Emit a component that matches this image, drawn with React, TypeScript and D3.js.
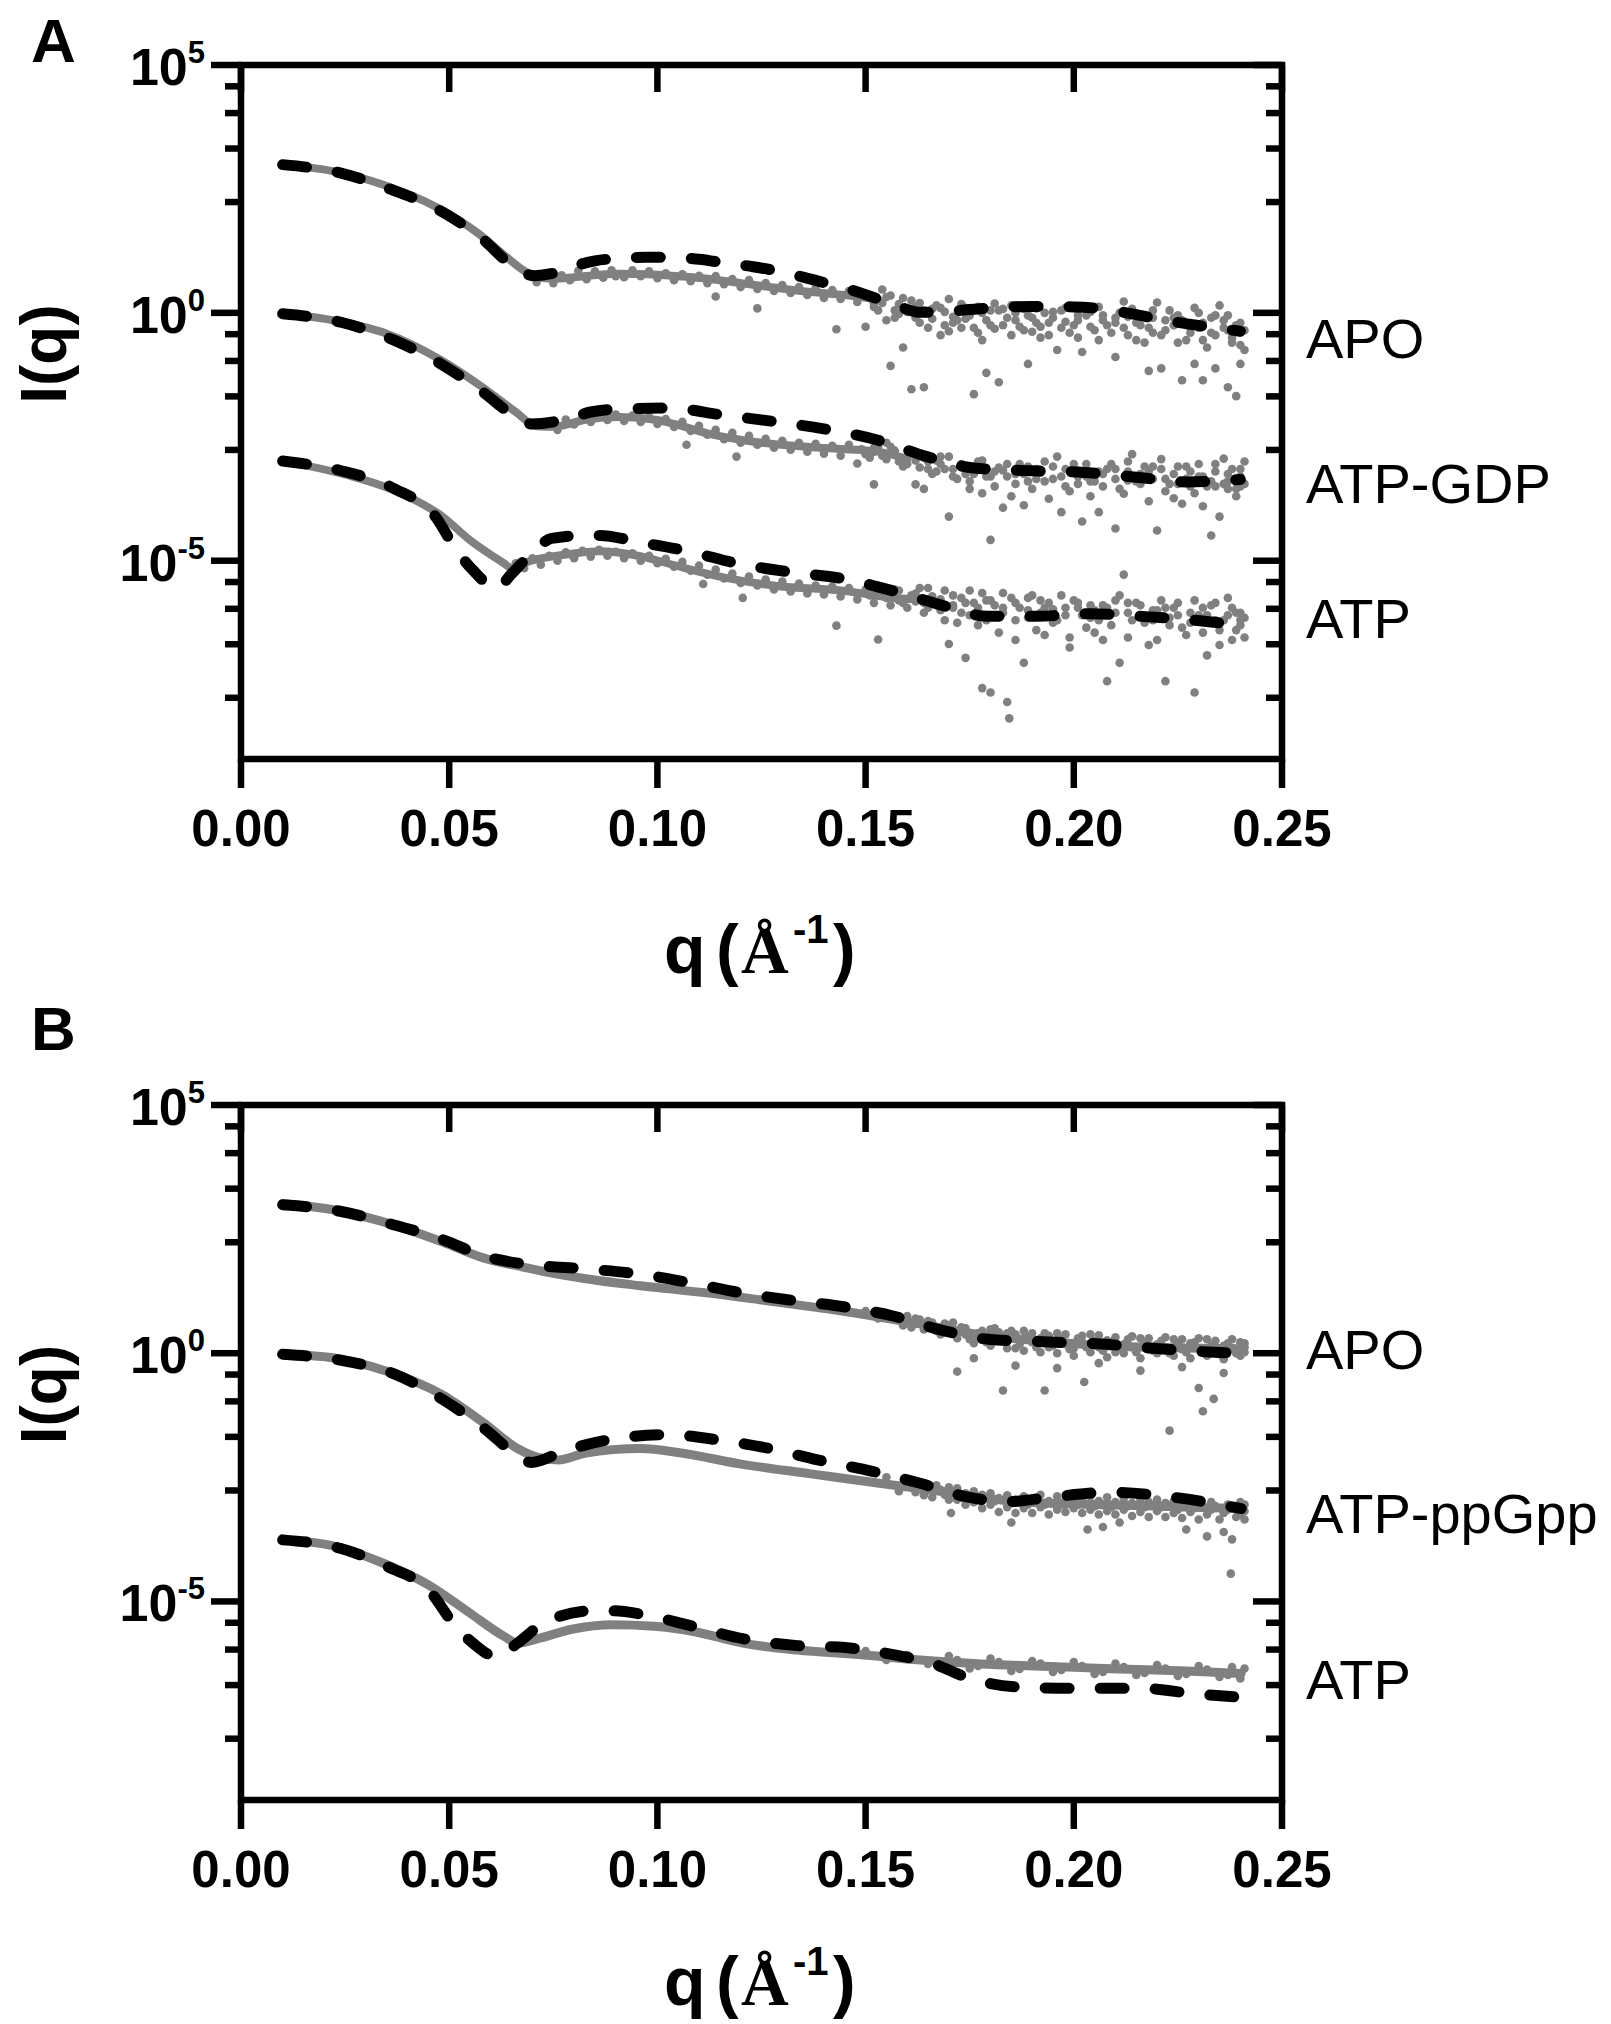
import React from "react";
import * as d3 from "d3";

// ---------------- axes / ticks ----------------
const qDomain: [number, number] = [0, 0.25];
const iDomain: [number, number] = [1e-9, 1e5];
const xTickValues = [0, 0.05, 0.1, 0.15, 0.2, 0.25];
const xTickLabels = ["0.00", "0.05", "0.10", "0.15", "0.20", "0.25"];
const yMajorValues = [1e5, 1e0, 1e-5];
const yMajorBase = ["10", "10", "10"];
const yMajorSup = ["5", "0", "-5"];
// minor ticks inside each 5-decade band (fraction of band above the lower major tick)
const yMinorBandFractions = [0.447, 0.663, 0.806, 0.914];
const yMinorBandLowerExps = [0, -5, -10];

// ---------------- Panel A data  [q, log10 I] ----------------
const A_apoData: [number, number][] = [
  [0.010, 2.99], [0.022, 2.86], [0.034, 2.59], [0.047, 2.13], [0.057, 1.60], [0.063, 1.18],
  [0.068, 0.85], [0.071, 0.72], [0.075, 0.69], [0.080, 0.72], [0.086, 0.77], [0.091, 0.79],
  [0.098, 0.78], [0.105, 0.74], [0.112, 0.69], [0.120, 0.60], [0.129, 0.50], [0.137, 0.42],
  [0.145, 0.36], [0.153, 0.27],
];
const A_apoFit: [number, number][] = [
  [0.010, 2.99], [0.024, 2.82], [0.035, 2.52], [0.047, 2.10], [0.058, 1.49], [0.0655, 0.93],
  [0.0705, 0.75], [0.075, 0.80], [0.0795, 0.93], [0.085, 1.05], [0.091, 1.10], [0.097, 1.12],
  [0.104, 1.12], [0.110, 1.08], [0.116, 1.01], [0.123, 0.93], [0.129, 0.84], [0.135, 0.72],
  [0.140, 0.61], [0.147, 0.45], [0.153, 0.28], [0.158, 0.13], [0.163, 0.01], [0.170, 0.03],
  [0.180, 0.10], [0.190, 0.13], [0.200, 0.12], [0.207, 0.08], [0.214, -0.02], [0.222, -0.15],
  [0.232, -0.28], [0.240, -0.37],
];
const A_apoDots: [number, number][] = [
  [0.071, 0.62], [0.073, 0.80], [0.075, 0.60], [0.077, 0.76], [0.079, 0.66], [0.081, 0.85],
  [0.083, 0.68], [0.085, 0.84], [0.087, 0.71], [0.089, 0.86], [0.090, 0.74],
  [0.092, 0.72], [0.094, 0.86], [0.096, 0.74], [0.098, 0.84], [0.100, 0.70], [0.102, 0.80],
  [0.104, 0.66], [0.106, 0.78], [0.108, 0.64], [0.110, 0.75], [0.112, 0.60], [0.114, 0.74],
  [0.114, 0.33], [0.116, 0.58], [0.118, 0.68], [0.120, 0.52], [0.122, 0.66], [0.124, 0.48],
  [0.124, 0.09], [0.126, 0.60], [0.128, 0.44], [0.130, 0.56], [0.132, 0.40], [0.134, 0.52],
  [0.136, 0.36], [0.138, 0.50], [0.140, 0.30], [0.142, 0.46], [0.143, -0.33], [0.144, 0.28],
  [0.146, 0.44], [0.148, 0.22], [0.150, 0.38], [0.150, -0.28], [0.152, 0.12], [0.154, 0.47],
  [0.155, -0.15], [0.156, -1.07], [0.157, 0.05], [0.159, -0.70], [0.159, 0.30], [0.161, -1.54],
  [0.162, -0.10], [0.163, 0.20], [0.164, -1.50], [0.165, -0.30], [0.166, 0.08], [0.168, -0.45],
  [0.170, -0.37], [0.170, 0.28], [0.172, -0.15], [0.174, 0.10], [0.176, -1.64], [0.176, -0.30],
  [0.178, -0.55], [0.179, -1.21], [0.180, 0.05], [0.181, 0.19], [0.182, -1.40], [0.183, -0.25],
  [0.185, -0.45], [0.186, 0.00], [0.188, -0.35], [0.189, -1.03], [0.190, -0.10], [0.191, 0.09],
  [0.192, -0.50], [0.194, -0.20], [0.196, -0.75], [0.197, 0.05], [0.199, -0.40], [0.201, -0.15],
  [0.202, -0.79], [0.204, 0.02], [0.206, -0.55], [0.208, -0.25], [0.210, -0.89], [0.211, 0.00],
  [0.212, 0.23], [0.213, -0.45], [0.215, -0.20], [0.217, -0.60], [0.218, -1.17], [0.219, 0.05],
  [0.220, 0.21], [0.221, -1.12], [0.222, -0.35], [0.224, -0.10], [0.226, -1.36], [0.227, -0.55],
  [0.228, -0.25], [0.229, -1.03], [0.230, 0.00], [0.231, -1.36], [0.232, -0.70], [0.233, -0.40],
  [0.234, -1.12], [0.235, 0.15], [0.236, -0.15], [0.237, -1.50], [0.238, -0.60], [0.239, -1.68],
  [0.240, -1.03], [0.240, -0.40], [0.241, -0.75],
];
const A_apoDots2: [number, number][] = [
  [0.151, 0.30], [0.153, 0.05], [0.154, 0.20], [0.156, 0.35], [0.157, -0.10], [0.158, 0.18],
  [0.160, 0.02], [0.161, 0.25], [0.163, -0.20], [0.164, 0.05], [0.166, -0.12], [0.167, 0.15],
  [0.169, -0.25], [0.169, 0.02], [0.171, -0.08], [0.173, -0.30], [0.173, 0.18], [0.175, -0.05],
  [0.177, 0.12], [0.177, -0.40], [0.179, -0.15], [0.181, -0.32], [0.182, 0.05], [0.184, -0.10],
  [0.185, 0.15], [0.187, -0.28], [0.188, 0.08], [0.190, -0.38], [0.191, -0.20], [0.193, 0.00],
  [0.194, -0.45], [0.195, -0.10], [0.197, -0.30], [0.198, 0.10], [0.200, -0.25], [0.201, -0.50],
  [0.203, -0.05], [0.205, -0.35], [0.206, 0.12], [0.207, -0.15], [0.209, -0.40], [0.210, -0.10],
  [0.212, -0.30], [0.214, 0.08], [0.215, -0.55], [0.216, -0.05], [0.218, -0.30], [0.219, -0.10],
  [0.221, -0.45], [0.223, 0.05], [0.224, -0.25], [0.225, -0.60], [0.226, -0.15], [0.228, -0.40],
  [0.229, 0.10], [0.230, -0.30], [0.231, -0.55], [0.233, -0.10], [0.234, -0.45], [0.236, -0.30],
  [0.237, -0.05], [0.238, -0.50], [0.239, -0.25], [0.240, -0.65], [0.241, -0.35],
];
const A_apoDots3: [number, number][] = [
  [0.152, 0.20], [0.155, 0.32], [0.158, -0.02], [0.162, 0.12], [0.165, 0.00], [0.168, 0.10],
  [0.171, -0.20], [0.174, -0.12], [0.178, 0.00], [0.180, -0.25], [0.183, 0.08], [0.186, -0.15],
  [0.189, -0.05], [0.192, -0.28], [0.195, 0.02], [0.198, -0.18], [0.201, -0.05], [0.204, -0.28],
  [0.207, -0.05], [0.210, -0.20], [0.213, -0.08], [0.216, -0.25], [0.219, -0.40], [0.222, -0.15],
  [0.225, -0.05], [0.228, -0.30], [0.231, -0.20], [0.234, -0.05], [0.237, -0.35], [0.240, -0.20],
];

const A_gdpData: [number, number][] = [
  [0.010, -0.02], [0.022, -0.15], [0.035, -0.42], [0.048, -0.95], [0.058, -1.50], [0.066, -2.00],
  [0.071, -2.29], [0.075, -2.30], [0.083, -2.15], [0.091, -2.10], [0.100, -2.16], [0.104, -2.24],
  [0.112, -2.43], [0.125, -2.62], [0.137, -2.71], [0.153, -2.80], [0.160, -2.95],
];
const A_gdpFit: [number, number][] = [
  [0.010, -0.02], [0.024, -0.19], [0.037, -0.56], [0.048, -1.03], [0.058, -1.59], [0.066, -2.10],
  [0.0697, -2.24], [0.0779, -2.15], [0.084, -2.00], [0.091, -1.94], [0.1025, -1.92], [0.1156, -2.06],
  [0.1287, -2.20], [0.140, -2.34], [0.153, -2.57], [0.1647, -2.90], [0.176, -3.13], [0.1877, -3.18],
  [0.2025, -3.22], [0.2156, -3.32], [0.227, -3.41], [0.240, -3.36],
];
const A_gdpDots: [number, number][] = [
  [0.074, -2.22], [0.076, -2.36], [0.078, -2.15], [0.080, -2.25], [0.082, -2.08], [0.084, -2.20],
  [0.086, -2.04], [0.088, -2.16], [0.090, -2.05], [0.092, -2.18], [0.094, -2.07], [0.096, -2.20],
  [0.098, -2.10], [0.100, -2.24], [0.102, -2.14], [0.104, -2.30], [0.106, -2.20], [0.107, -2.66],
  [0.108, -2.38], [0.110, -2.28], [0.112, -2.46], [0.114, -2.36], [0.116, -2.55], [0.118, -2.42],
  [0.119, -2.90], [0.120, -2.62], [0.122, -2.48], [0.124, -2.66], [0.126, -2.54], [0.128, -2.72],
  [0.130, -2.58], [0.132, -2.76], [0.134, -2.62], [0.136, -2.80], [0.138, -2.64], [0.140, -2.84],
  [0.142, -2.68], [0.144, -2.88], [0.146, -2.66], [0.148, -3.04], [0.149, -2.75], [0.151, -2.92],
  [0.152, -3.46], [0.153, -2.70], [0.155, -2.95], [0.157, -2.78], [0.159, -3.10], [0.161, -2.85],
  [0.162, -3.46], [0.164, -3.55], [0.165, -3.00], [0.167, -3.20], [0.168, -2.90], [0.170, -4.11],
  [0.171, -3.30], [0.173, -3.05], [0.175, -3.40], [0.177, -3.00], [0.178, -3.64], [0.180, -4.58],
  [0.181, -3.20], [0.183, -3.93], [0.184, -3.05], [0.186, -3.45], [0.188, -3.88], [0.189, -3.10],
  [0.191, -3.35], [0.193, -3.00], [0.196, -2.90], [0.197, -4.02], [0.198, -3.50], [0.200, -3.20],
  [0.202, -4.21], [0.203, -3.05], [0.205, -3.40], [0.206, -4.02], [0.208, -3.15], [0.210, -4.35],
  [0.211, -3.55], [0.213, -3.00], [0.214, -2.85], [0.216, -3.45], [0.218, -3.20], [0.220, -4.39],
  [0.221, -2.95], [0.222, -3.60], [0.224, -3.74], [0.225, -3.10], [0.227, -3.35], [0.229, -3.64],
  [0.230, -3.05], [0.232, -3.50], [0.233, -4.49], [0.234, -3.20], [0.235, -4.11], [0.236, -2.94],
  [0.237, -3.55], [0.238, -3.15], [0.239, -3.70], [0.240, -3.30], [0.241, -3.00],
];
const A_gdpDots2: [number, number][] = [
  [0.150, -2.85], [0.152, -2.72], [0.154, -2.88], [0.156, -2.70], [0.158, -2.92], [0.160, -3.05],
  [0.161, -2.80], [0.163, -3.12], [0.164, -2.92], [0.166, -3.25], [0.167, -2.98], [0.169, -3.15],
  [0.170, -2.90], [0.172, -3.35], [0.174, -3.10], [0.175, -3.55], [0.176, -3.25], [0.178, -2.98],
  [0.179, -3.30], [0.181, -3.50], [0.182, -3.12], [0.184, -3.30], [0.185, -3.70], [0.187, -3.05],
  [0.188, -3.25], [0.190, -3.55], [0.191, -3.15], [0.193, -3.40], [0.194, -3.75], [0.195, -3.10],
  [0.197, -3.30], [0.199, -3.60], [0.200, -3.05], [0.201, -3.45], [0.203, -3.30], [0.204, -3.70],
  [0.206, -3.20], [0.207, -3.50], [0.209, -3.05], [0.210, -3.35], [0.212, -3.65], [0.213, -3.20],
  [0.215, -3.40], [0.217, -3.10], [0.218, -3.80], [0.219, -3.35], [0.221, -3.15], [0.223, -3.45],
  [0.224, -3.25], [0.226, -3.85], [0.227, -3.10], [0.228, -3.50], [0.230, -3.30], [0.231, -3.90],
  [0.233, -3.40], [0.234, -3.05], [0.236, -3.45], [0.237, -3.25], [0.239, -3.55], [0.240, -3.15],
  [0.241, -3.45],
];
const A_gdpDots3: [number, number][] = [
  [0.152, -2.80], [0.155, -2.62], [0.158, -3.00], [0.162, -2.98], [0.165, -3.15], [0.168, -3.05],
  [0.171, -3.15], [0.174, -3.25], [0.177, -3.15], [0.180, -3.30], [0.183, -3.18], [0.186, -3.25],
  [0.189, -3.40], [0.192, -3.22], [0.195, -3.35], [0.198, -3.15], [0.201, -3.30], [0.204, -3.40],
  [0.207, -3.25], [0.210, -3.15], [0.213, -3.38], [0.216, -3.25], [0.219, -3.10], [0.222, -3.35],
  [0.225, -3.45], [0.228, -3.20], [0.231, -3.30], [0.234, -3.50], [0.237, -3.40], [0.240, -3.50],
];

const A_atpData: [number, number][] = [
  [0.010, -2.99], [0.0254, -3.27], [0.0385, -3.64], [0.0484, -4.11], [0.0549, -4.58], [0.0631, -5.05],
  [0.0648, -5.14], [0.0697, -5.00], [0.0795, -4.86], [0.0861, -4.81], [0.0959, -4.91], [0.104, -5.09],
  [0.1156, -5.33], [0.1287, -5.51], [0.1451, -5.61], [0.1566, -5.75], [0.165, -5.78],
];
const A_atpFit: [number, number][] = [
  [0.010, -2.99], [0.0238, -3.18], [0.0369, -3.55], [0.0467, -4.11], [0.0516, -4.77], [0.0557, -5.19],
  [0.0615, -5.56], [0.0648, -5.28], [0.0697, -4.86], [0.0746, -4.55], [0.083, -4.49], [0.0861, -4.49],
  [0.0959, -4.63], [0.1074, -4.81], [0.1189, -5.05], [0.1320, -5.23], [0.1451, -5.37], [0.1566, -5.61],
  [0.1680, -5.89], [0.1795, -6.12], [0.1910, -6.12], [0.2041, -6.07], [0.2156, -6.12], [0.2303, -6.21],
  [0.2402, -6.31],
];
const A_atpDots: [number, number][] = [
  [0.066, -5.05], [0.068, -5.15], [0.070, -4.95], [0.072, -5.08], [0.074, -4.90], [0.076, -5.00],
  [0.078, -4.83], [0.080, -4.95], [0.082, -4.80], [0.084, -4.92], [0.086, -4.78], [0.088, -4.90],
  [0.090, -4.82], [0.092, -4.95], [0.094, -4.85], [0.096, -5.00], [0.098, -4.90], [0.100, -5.05],
  [0.102, -4.96], [0.104, -5.12], [0.106, -5.02], [0.108, -5.20], [0.110, -5.10], [0.111, -5.47],
  [0.112, -5.28], [0.114, -5.18], [0.116, -5.36], [0.118, -5.26], [0.120, -5.45], [0.1205, -5.75],
  [0.122, -5.32], [0.124, -5.50], [0.126, -5.38], [0.128, -5.58], [0.130, -5.42], [0.132, -5.62],
  [0.134, -5.46], [0.136, -5.66], [0.138, -5.50], [0.140, -5.68], [0.142, -5.52], [0.143, -6.31],
  [0.144, -5.72], [0.146, -5.55], [0.148, -5.78], [0.150, -5.58], [0.152, -5.85], [0.153, -6.59],
  [0.154, -5.62], [0.156, -5.90], [0.158, -5.60], [0.160, -5.95], [0.162, -5.66], [0.164, -6.05],
  [0.165, -5.55], [0.167, -5.90], [0.169, -6.20], [0.170, -6.68], [0.171, -5.70], [0.173, -6.05],
  [0.174, -6.96], [0.175, -5.60], [0.177, -6.30], [0.178, -7.57], [0.179, -5.80], [0.180, -7.66],
  [0.181, -6.10], [0.183, -5.65], [0.184, -7.85], [0.1845, -8.18], [0.186, -6.20], [0.188, -7.06],
  [0.189, -5.75], [0.191, -6.40], [0.193, -5.95], [0.195, -6.25], [0.197, -5.70], [0.199, -6.55],
  [0.201, -5.85], [0.203, -6.35], [0.205, -6.00], [0.207, -6.60], [0.208, -7.43], [0.210, -5.80],
  [0.211, -7.06], [0.212, -5.28], [0.214, -6.20], [0.216, -5.90], [0.218, -6.70], [0.220, -6.00],
  [0.222, -7.43], [0.223, -6.30], [0.225, -5.85], [0.227, -6.50], [0.229, -7.66], [0.230, -6.10],
  [0.232, -6.91], [0.233, -5.90], [0.235, -6.40], [0.237, -5.75], [0.238, -6.60], [0.239, -6.05],
  [0.240, -6.30], [0.241, -6.15],
];
const A_atpDots2: [number, number][] = [
  [0.151, -5.70], [0.153, -5.52], [0.155, -5.75], [0.157, -5.58], [0.159, -5.85], [0.161, -5.70],
  [0.163, -5.55], [0.164, -5.85], [0.166, -5.72], [0.168, -6.00], [0.169, -5.60], [0.171, -5.90],
  [0.172, -6.25], [0.173, -5.75], [0.175, -6.10], [0.176, -5.85], [0.178, -5.65], [0.179, -6.20],
  [0.181, -5.90], [0.182, -6.45], [0.183, -6.05], [0.185, -5.75], [0.186, -6.60], [0.187, -5.95],
  [0.189, -6.15], [0.190, -5.70], [0.192, -6.05], [0.193, -6.50], [0.194, -5.85], [0.196, -6.20],
  [0.198, -5.95], [0.199, -6.75], [0.200, -5.80], [0.202, -6.10], [0.204, -5.90], [0.205, -6.45],
  [0.206, -6.20], [0.208, -5.95], [0.209, -6.30], [0.211, -5.70], [0.213, -6.55], [0.213, -6.05],
  [0.215, -5.85], [0.217, -6.25], [0.219, -6.00], [0.220, -6.60], [0.221, -5.80], [0.223, -6.15],
  [0.224, -5.95], [0.226, -6.35], [0.228, -6.05], [0.229, -5.80], [0.231, -6.45], [0.232, -6.10],
  [0.234, -5.85], [0.235, -6.70], [0.236, -6.20], [0.238, -5.95], [0.239, -6.40], [0.240, -6.05],
  [0.241, -6.55],
];
const A_atpDots3: [number, number][] = [
  [0.152, -5.62], [0.155, -5.70], [0.158, -5.80], [0.162, -5.82], [0.165, -5.95], [0.168, -5.78],
  [0.171, -5.95], [0.174, -5.85], [0.177, -5.95], [0.180, -5.80], [0.183, -5.95], [0.186, -5.85],
  [0.189, -6.00], [0.192, -5.80], [0.195, -5.98], [0.198, -6.10], [0.201, -5.95], [0.204, -6.15],
  [0.207, -5.90], [0.210, -6.05], [0.213, -5.85], [0.216, -6.10], [0.219, -6.20], [0.222, -5.95],
  [0.225, -6.10], [0.228, -6.25], [0.231, -5.95], [0.234, -6.20], [0.237, -6.10], [0.240, -6.20],
];

// ---------------- Panel B data  [q, log10 I] ----------------
const B_apoData: [number, number][] = [
  [0.010, 3.01], [0.0221, 2.89], [0.0336, 2.66], [0.0484, 2.24], [0.0582, 1.92], [0.068, 1.73],
  [0.073, 1.64], [0.0828, 1.50], [0.0959, 1.36], [0.1123, 1.21], [0.1287, 1.03], [0.1451, 0.84],
  [0.1615, 0.61], [0.1779, 0.37], [0.1943, 0.23], [0.2107, 0.14], [0.240, 0.09],
];
const B_apoFit: [number, number][] = [
  [0.010, 2.99], [0.0238, 2.86], [0.0352, 2.62], [0.0484, 2.29], [0.0582, 1.96], [0.0697, 1.78],
  [0.0828, 1.70], [0.0959, 1.59], [0.1090, 1.40], [0.1205, 1.21], [0.1320, 1.07], [0.1451, 0.93],
  [0.1566, 0.75], [0.1680, 0.47], [0.1795, 0.28], [0.1926, 0.23], [0.2057, 0.19], [0.2205, 0.09],
  [0.2336, 0.02], [0.2402, 0.00],
];
const B_apoDots: [number, number][] = [
  [0.150, 0.85], [0.153, 0.70], [0.156, 0.78], [0.159, 0.56], [0.162, 0.70], [0.164, 0.48],
  [0.166, 0.62], [0.168, 0.38], [0.170, 0.56], [0.172, -0.37], [0.172, 0.30], [0.174, 0.50],
  [0.176, 0.20], [0.176, -0.10], [0.178, 0.45], [0.180, 0.15], [0.182, 0.42], [0.183, -0.75],
  [0.184, 0.10], [0.186, 0.38], [0.186, -0.25], [0.188, 0.05], [0.190, 0.40], [0.192, 0.02],
  [0.193, -0.75], [0.194, 0.35], [0.196, 0.00], [0.196, -0.30], [0.198, 0.38], [0.200, -0.05],
  [0.202, 0.35], [0.2025, -0.58], [0.204, 0.02], [0.206, 0.36], [0.206, -0.20], [0.208, -0.08],
  [0.210, 0.32], [0.212, 0.00], [0.214, 0.34], [0.216, -0.10], [0.216, -0.35], [0.218, 0.30],
  [0.220, 0.00], [0.222, 0.32], [0.223, -1.56], [0.224, -0.05], [0.226, 0.28], [0.226, -0.28],
  [0.228, -0.10], [0.230, 0.30], [0.230, -0.70], [0.231, -1.17], [0.232, -0.05], [0.2336, -0.92],
  [0.234, 0.25], [0.236, -0.12], [0.236, -0.40], [0.238, 0.28], [0.240, -0.05], [0.241, 0.20],
];
const B_apoDots2: [number, number][] = [
  [0.160, 0.75], [0.161, 0.52], [0.163, 0.68], [0.165, 0.55], [0.167, 0.45], [0.169, 0.60],
  [0.171, 0.40], [0.173, 0.52], [0.175, 0.28], [0.177, 0.40], [0.179, 0.22], [0.181, 0.50],
  [0.183, 0.25], [0.185, 0.45], [0.187, 0.18], [0.189, 0.32], [0.191, 0.12], [0.193, 0.40],
  [0.195, 0.15], [0.197, 0.28], [0.199, 0.08], [0.201, 0.30], [0.203, 0.12], [0.205, 0.25],
  [0.207, 0.05], [0.209, 0.22], [0.211, 0.10], [0.213, 0.28], [0.215, 0.02], [0.217, 0.20],
  [0.219, 0.05], [0.221, 0.25], [0.223, 0.00], [0.225, 0.18], [0.227, 0.02], [0.229, 0.22],
  [0.231, 0.05], [0.233, 0.15], [0.235, -0.02], [0.237, 0.20], [0.239, 0.00], [0.241, 0.12],
];
const B_apoDots3: [number, number][] = [
  [0.165, 0.65], [0.168, 0.52], [0.171, 0.62], [0.174, 0.38], [0.177, 0.30], [0.180, 0.48],
  [0.182, 0.30], [0.184, 0.40], [0.186, 0.10], [0.188, 0.45], [0.190, 0.22], [0.192, 0.30],
  [0.194, 0.12], [0.196, 0.40], [0.198, 0.18], [0.200, 0.10], [0.202, 0.22], [0.204, 0.38],
  [0.206, 0.12], [0.208, 0.26], [0.210, 0.02], [0.212, 0.18], [0.214, 0.12], [0.216, 0.30],
  [0.218, 0.08], [0.220, 0.18], [0.222, 0.06], [0.224, 0.28], [0.226, 0.08], [0.228, 0.20],
  [0.230, 0.10], [0.232, 0.28], [0.234, 0.05], [0.236, 0.15], [0.238, 0.10], [0.240, 0.22],
  [0.241, 0.02],
];

const B_ppgData: [number, number][] = [
  [0.010, -0.02], [0.0221, -0.09], [0.0352, -0.37], [0.0484, -0.84], [0.0582, -1.40], [0.0664, -1.92],
  [0.0713, -2.10], [0.0762, -2.15], [0.0828, -2.01], [0.0959, -1.92], [0.1057, -2.01], [0.1205, -2.24],
  [0.1369, -2.43], [0.1533, -2.62], [0.1697, -2.80], [0.1861, -2.99], [0.2025, -3.04], [0.2189, -3.08],
  [0.2402, -3.13],
];
const B_ppgFit: [number, number][] = [
  [0.010, -0.02], [0.0238, -0.14], [0.0369, -0.42], [0.0484, -0.93], [0.0582, -1.50], [0.0664, -2.06],
  [0.0697, -2.20], [0.0779, -1.96], [0.0893, -1.73], [0.1025, -1.64], [0.1156, -1.76], [0.1270, -1.92],
  [0.1385, -2.15], [0.1516, -2.38], [0.1631, -2.62], [0.1746, -2.90], [0.1844, -2.99], [0.1943, -2.90],
  [0.2090, -2.80], [0.2238, -2.90], [0.2402, -3.13],
];
const B_ppgDots: [number, number][] = [
  [0.155, -2.50], [0.158, -2.78], [0.161, -2.58], [0.164, -2.86], [0.167, -2.66], [0.170, -2.95],
  [0.1705, -3.22], [0.172, -2.72], [0.174, -3.05], [0.176, -2.78], [0.178, -3.12], [0.180, -2.82],
  [0.182, -3.20], [0.184, -2.86], [0.185, -3.41], [0.186, -3.22], [0.188, -2.88], [0.190, -3.22],
  [0.192, -2.85], [0.194, -3.25], [0.196, -2.88], [0.198, -3.20], [0.200, -2.86], [0.202, -3.22],
  [0.2033, -3.55], [0.204, -2.88], [0.206, -3.25], [0.207, -3.50], [0.208, -2.90], [0.210, -3.25],
  [0.211, -3.41], [0.212, -2.92], [0.214, -3.28], [0.216, -2.95], [0.218, -3.30], [0.220, -2.95],
  [0.222, -3.30], [0.224, -2.98], [0.226, -3.32], [0.227, -3.55], [0.228, -2.98], [0.230, -3.35],
  [0.232, -3.69], [0.233, -3.00], [0.235, -3.35], [0.236, -3.60], [0.237, -3.05], [0.2377, -4.44],
  [0.238, -3.75], [0.239, -3.30], [0.240, -3.00], [0.241, -3.35],
];
const B_ppgDots2: [number, number][] = [
  [0.160, -2.62], [0.162, -2.80], [0.164, -2.68], [0.166, -2.90], [0.168, -2.75], [0.170, -2.70],
  [0.172, -2.95], [0.174, -2.82], [0.176, -3.00], [0.178, -2.85], [0.180, -3.05], [0.182, -2.92],
  [0.184, -3.10], [0.186, -2.95], [0.188, -3.12], [0.190, -2.95], [0.192, -3.10], [0.194, -2.98],
  [0.196, -3.15], [0.198, -2.95], [0.200, -3.12], [0.202, -2.98], [0.204, -3.15], [0.206, -2.98],
  [0.208, -3.18], [0.210, -3.00], [0.212, -3.15], [0.214, -3.02], [0.216, -3.20], [0.218, -3.00],
  [0.220, -3.18], [0.222, -3.02], [0.224, -3.22], [0.226, -3.05], [0.228, -3.20], [0.230, -3.05],
  [0.232, -3.25], [0.234, -3.08], [0.236, -3.22], [0.238, -3.10], [0.240, -3.25], [0.241, -3.05],
];
const B_ppgDots3: [number, number][] = [
  [0.165, -2.75], [0.169, -2.85], [0.173, -2.90], [0.177, -2.90], [0.181, -2.98], [0.185, -3.02],
  [0.189, -3.05], [0.193, -3.05], [0.197, -3.05], [0.201, -3.05], [0.205, -3.08], [0.209, -3.10],
  [0.213, -3.08], [0.217, -3.10], [0.221, -3.10], [0.225, -3.15], [0.229, -3.12], [0.233, -3.15],
  [0.237, -3.15], [0.241, -3.18],
];

const B_atpData: [number, number][] = [
  [0.010, -3.76], [0.0221, -3.88], [0.0336, -4.21], [0.0451, -4.67], [0.0549, -5.23], [0.0631, -5.70],
  [0.0664, -5.84], [0.0713, -5.75], [0.0795, -5.56], [0.0893, -5.47], [0.0992, -5.50], [0.1090, -5.61],
  [0.1205, -5.84], [0.1336, -5.98], [0.1484, -6.07], [0.1615, -6.17], [0.1779, -6.26], [0.1943, -6.31],
  [0.2107, -6.36], [0.2270, -6.40], [0.2402, -6.45],
];
const B_atpFit: [number, number][] = [
  [0.010, -3.76], [0.0238, -3.93], [0.0352, -4.30], [0.0451, -4.77], [0.0516, -5.51], [0.0557, -5.84],
  [0.0615, -6.12], [0.0664, -5.84], [0.0730, -5.42], [0.0844, -5.19], [0.0893, -5.19], [0.0975, -5.28],
  [0.1090, -5.51], [0.1205, -5.75], [0.1336, -5.89], [0.1451, -5.93], [0.1566, -6.07], [0.1664, -6.26],
  [0.1746, -6.54], [0.1877, -6.73], [0.1992, -6.75], [0.2156, -6.75], [0.2303, -6.87], [0.2402, -6.93],
];
const B_atpDots: [number, number][] = [
  [0.170, -6.10], [0.175, -6.35], [0.180, -6.15], [0.185, -6.40], [0.190, -6.20], [0.195, -6.42],
  [0.200, -6.22], [0.205, -6.46], [0.210, -6.25], [0.215, -6.48], [0.220, -6.28], [0.225, -6.50],
  [0.230, -6.30], [0.235, -6.52], [0.238, -6.32], [0.240, -6.55], [0.241, -6.35],
  [0.150, -6.00], [0.155, -6.18], [0.160, -6.08], [0.165, -6.26], [0.172, -6.18], [0.177, -6.30],
  [0.182, -6.22], [0.187, -6.36], [0.192, -6.25], [0.197, -6.38], [0.202, -6.30], [0.207, -6.42],
  [0.212, -6.32], [0.217, -6.44], [0.222, -6.35], [0.227, -6.46], [0.232, -6.37], [0.237, -6.48],
];

const A_labels = ["APO", "ATP-GDP", "ATP"];
const A_labelLog = [-0.91, -3.83, -6.55];
const B_labels = ["APO", "ATP-ppGpp", "ATP"];
const B_labelLog = [-0.31, -3.63, -6.97];

type Series = { data: [number, number][]; fit: [number, number][]; dots: [number, number][] };

const panelA = {
  letter: "A",
  top: 65, bottom: 759, letterY: 62, titleY: 214,
  lineWidth: 8,
  series: [
    { data: A_apoData, fit: A_apoFit, dots: A_apoDots.concat(A_apoDots2, A_apoDots3) },
    { data: A_gdpData, fit: A_gdpFit, dots: A_gdpDots.concat(A_gdpDots2, A_gdpDots3) },
    { data: A_atpData, fit: A_atpFit, dots: A_atpDots.concat(A_atpDots2, A_atpDots3) },
  ] as Series[],
  labels: A_labels, labelLog: A_labelLog,
};
const panelB = {
  letter: "B",
  top: 1105, bottom: 1800, letterY: 1050, titleY: 205,
  lineWidth: 9,
  series: [
    { data: B_apoData, fit: B_apoFit, dots: B_apoDots.concat(B_apoDots2, B_apoDots3) },
    { data: B_ppgData, fit: B_ppgFit, dots: B_ppgDots.concat(B_ppgDots2, B_ppgDots3) },
    { data: B_atpData, fit: B_atpFit, dots: B_atpDots },
  ] as Series[],
  labels: B_labels, labelLog: B_labelLog,
};

const LEFT = 241;
const RIGHT = 1282;
const GRAY = "#808080";
const SANS = "'Liberation Sans', Arial, sans-serif";
const SERIF = "'Liberation Serif', 'Times New Roman', serif";

function Panel({ p }: { p: typeof panelA }) {
  const x = d3.scaleLinear().domain(qDomain).range([LEFT, RIGHT]);
  const y = d3.scaleLog().domain(iDomain).range([p.bottom, p.top]);
  const line = d3
    .line<[number, number]>()
    .x((d) => x(d[0]))
    .y((d) => y(Math.pow(10, d[1])))
    .curve(d3.curveMonotoneX);

  const minorVals: number[] = [];
  yMinorBandLowerExps.forEach((e) =>
    yMinorBandFractions.forEach((f) => {
      const v = Math.pow(10, e + 5 * f);
      if (v > iDomain[0] && v < iDomain[1]) minorVals.push(v);
    })
  );

  const sw = 6.5;
  const cy = (p.top + p.bottom) / 2 - 58;
  const ty = p.bottom + p.titleY;

  return (
    <g>
      <text x={31} y={p.letterY} fontFamily={SANS} fontWeight="bold" fontSize={62}>
        {p.letter}
      </text>

      {/* data (gray) */}
      {p.series.map((s, i) => (
        <g key={"d" + i}>
          <path d={line(s.data) || ""} fill="none" stroke={GRAY} strokeWidth={p.lineWidth} strokeLinecap="round" />
          {s.dots.map((d, j) => (
            <circle key={j} cx={x(d[0])} cy={y(Math.pow(10, d[1]))} r={4.3} fill={GRAY} />
          ))}
        </g>
      ))}
      {/* fits (dashed) */}
      {p.series.map((s, i) => (
        <path
          key={"f" + i}
          d={line(s.fit) || ""}
          fill="none"
          stroke="#000"
          strokeWidth={11}
          strokeDasharray="24 31"
          strokeLinecap="round"
        />
      ))}

      {/* frame */}
      <rect x={LEFT} y={p.top} width={RIGHT - LEFT} height={p.bottom - p.top} fill="none" stroke="#000" strokeWidth={sw} />

      {/* x ticks bottom (outward) and top (inward) */}
      {xTickValues.map((v, i) => (
        <g key={"xt" + i}>
          <line x1={x(v)} x2={x(v)} y1={p.bottom} y2={p.bottom + 29} stroke="#000" strokeWidth={sw} />
          <line x1={x(v)} x2={x(v)} y1={p.top} y2={p.top + 27} stroke="#000" strokeWidth={sw} />
          <text
            x={x(v)}
            y={p.bottom + 87}
            textAnchor="middle"
            fontFamily={SANS}
            fontWeight="bold"
            fontSize={51}
          >
            {xTickLabels[i]}
          </text>
        </g>
      ))}

      {/* y major ticks */}
      {yMajorValues.map((v, i) => (
        <g key={"ym" + i}>
          <line x1={LEFT - 30} x2={LEFT} y1={y(v)} y2={y(v)} stroke="#000" strokeWidth={sw} />
          <line x1={RIGHT - 29} x2={RIGHT} y1={y(v)} y2={y(v)} stroke="#000" strokeWidth={sw} />
          <text x={205} y={y(v) + 20} textAnchor="end" fontFamily={SANS} fontWeight="bold" fontSize={52}>
            {yMajorBase[i]}
            <tspan fontSize={31} dy={-22}>
              {yMajorSup[i]}
            </tspan>
          </text>
        </g>
      ))}
      {/* y minor ticks */}
      {minorVals.map((v, i) => (
        <g key={"yn" + i}>
          <line x1={LEFT - 16} x2={LEFT} y1={y(v)} y2={y(v)} stroke="#000" strokeWidth={sw} />
          <line x1={RIGHT - 16} x2={RIGHT} y1={y(v)} y2={y(v)} stroke="#000" strokeWidth={sw} />
        </g>
      ))}

      {/* y title */}
      <text
        transform={`translate(66,${cy}) rotate(-90)`}
        textAnchor="middle"
        fontFamily={SANS}
        fontWeight="bold"
        fontSize={64}
      >
        I(q)
      </text>

      {/* x title */}
      <text x={664} y={ty} fontFamily={SANS} fontWeight="bold" fontSize={68}>q</text>
      <text x={716} y={ty} fontFamily={SANS} fontWeight="bold" fontSize={68}>(</text>
      <text x={741} y={ty} fontFamily={SERIF} fontWeight="bold" fontSize={66}>Å</text>
      <text x={793} y={ty - 30} fontFamily={SANS} fontWeight="bold" fontSize={40}>-1</text>
      <text x={833} y={ty} fontFamily={SANS} fontWeight="bold" fontSize={68}>)</text>

      {/* series labels */}
      {p.labels.map((t, i) => (
        <text key={"l" + i} x={1306} y={y(Math.pow(10, p.labelLog[i]))} fontFamily={SANS} fontSize={56}>
          {t}
        </text>
      ))}
    </g>
  );
}

export default function App() {
  return (
    <svg
      width={1611}
      height={2024}
      viewBox="0 0 1611 2024"
      style={{ position: "absolute", left: 0, top: 0, display: "block", background: "#fff" }}
    >
      <rect x={0} y={0} width={1611} height={2024} fill="#fff" />
      <Panel p={panelA} />
      <Panel p={panelB} />
    </svg>
  );
}
